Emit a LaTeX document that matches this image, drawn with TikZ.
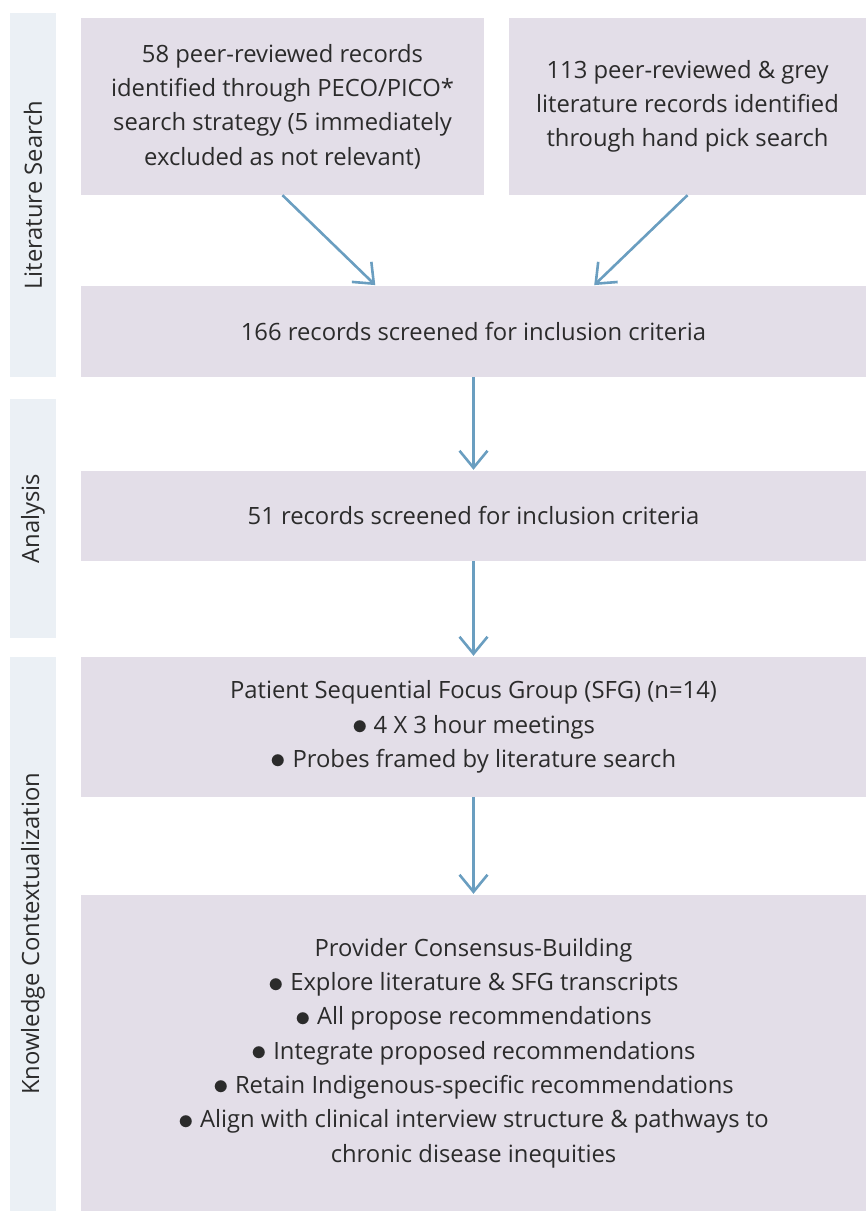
\documentclass[tikz,border=0pt]{standalone}
\usepackage{fontspec}
\setmainfont{Open Sans}
\usepackage{graphicx}
\usepackage{tikz}
\usetikzlibrary{arrows.meta}
\definecolor{boxfill}{HTML}{E3DEE8}
\definecolor{bandfill}{HTML}{EBF0F5}
\definecolor{arrowblue}{HTML}{6A9EC0}
\definecolor{textgrey}{HTML}{2B2B2B}
\newcommand{\bul}{\raisebox{-0.06em}{\scalebox{1.25}{$\bullet$}}\ }
\begin{document}
\begin{tikzpicture}[x=1pt, y=-1pt,
	every node/.style={inner sep=0pt, text=textgrey, font=\fontsize{23.8}{34.3}\selectfont},
	box/.style={fill=boxfill, align=center},
	band/.style={fill=bandfill, align=center},
	link/.style={draw=arrowblue, line width=2.6pt, -{Straight Barb[length=17pt, width=28pt]}, shorten >=1pt}]
	\useasboundingbox (0,0) rectangle (866,1211);
	%bands
	\node (litband)[band, minimum width=46pt, minimum height=364pt] at (33,195) {};
	\node[rotate=90] at (litband) {Literature Search};
	\node (anaband)[band, minimum width=46pt, minimum height=239pt] at (33,518.5) {};
	\node[rotate=90] at (anaband) {Analysis};
	\node (kcband)[band, minimum width=46pt, minimum height=554pt] at (33,934) {};
	\node[rotate=90] at (kcband) {Knowledge Contextualization};
	
	%nodes
	\node (peco)[box, minimum width=403pt, minimum height=177pt] at (282.5,106.5)
		{58 peer-reviewed records\\ identified through PECO/PICO*\\ search strategy (5 immediately\\ excluded as not relevant)};
	\node (hand)[box, minimum width=357pt, minimum height=177pt] at (687.5,106.5)
		{113 peer-reviewed \& grey\\ literature records identified\\ through hand pick search};
	\node (screen)[box, minimum width=785pt, minimum height=91pt] at (473.5,331.5)
		{166 records screened for inclusion criteria};
	\node (analysed)[box, minimum width=785pt, minimum height=90pt] at (473.5,516)
		{51 records screened for inclusion criteria};
	\node (sfg)[box, minimum width=785pt, minimum height=140pt] at (473.5,727)
		{Patient Sequential Focus Group (SFG) (n=14)\\ \bul 4 X 3 hour meetings\\ \bul Probes framed by literature search};
	\node (consensus)[box, minimum width=785pt, minimum height=316pt] at (473.5,1053)
		{Provider Consensus-Building\\ \bul Explore literature \& SFG transcripts\\ \bul All propose recommendations\\
		 \bul Integrate proposed recommendations\\ \bul Retain Indigenous-specific recommendations\\
		 \bul Align with clinical interview structure \& pathways to\\ chronic disease inequities};
	
	%links
	\coordinate (pecoend) at ([xshift=-97.5pt]screen.north);
	\coordinate (handend) at ([xshift=120pt]screen.north);
	\draw[link] (peco.south) -- (pecoend);
	\draw[link] (hand.south) -- (handend);
	\draw[link] (screen) -- (analysed);
	\draw[link] (analysed) -- (sfg);
	\draw[link] (sfg) -- (consensus);
\end{tikzpicture}
\end{document}
